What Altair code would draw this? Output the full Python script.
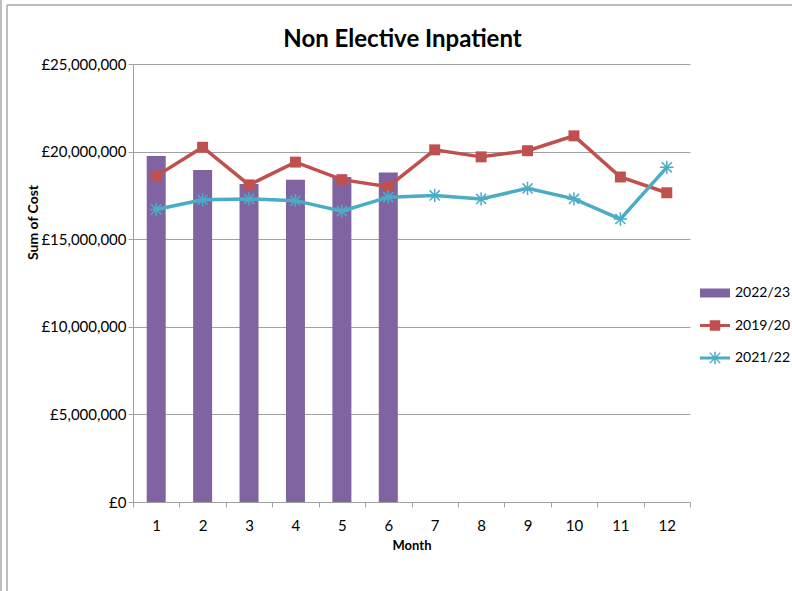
import altair as alt
import pandas as pd

# ---- data -------------------------------------------------------------
months = list(range(1, 13))
series_names = ["2022/23", "2019/20", "2021/22"]
series_colors = ["#8064A2", "#C0504D", "#4BACC6"]

# monthly cost, £
cost_2022_23 = [19_750_000, 18_950_000, 18_150_000, 18_400_000, 18_550_000, 18_800_000]
cost_2019_20 = [18_600_000, 20_250_000, 18_100_000, 19_400_000, 18_400_000, 18_000_000,
                20_100_000, 19_700_000, 20_050_000, 20_900_000, 18_550_000, 17_650_000]
cost_2021_22 = [16_700_000, 17_250_000, 17_300_000, 17_200_000, 16_600_000, 17_400_000,
                17_500_000, 17_300_000, 17_900_000, 17_300_000, 16_150_000, 19_100_000]

y_ticks = [0, 5_000_000, 10_000_000, 15_000_000, 20_000_000, 25_000_000]

bars_df = pd.DataFrame({"Month": months[:len(cost_2022_23)],
                        "Series": series_names[0], "Cost": cost_2022_23})
lines_df = pd.concat([
    pd.DataFrame({"Month": months, "Series": series_names[1], "Cost": cost_2019_20}),
    pd.DataFrame({"Month": months, "Series": series_names[2], "Cost": cost_2021_22}),
], ignore_index=True)

# ---- styling ----------------------------------------------------------
FONT = "Lato"
GREY = "#a0a0a0"
W, H = 557, 438

# marker shape: asterisk drawn as strokes
ASTERISK = "M-1,0L1,0M0,-1L0,1M-0.75,-0.75L0.75,0.75M-0.75,0.75L0.75,-0.75"

# legend swatches (filled paths): bar block, line + square, line + asterisk
LEG_BAR = "M-1,-0.3L1,-0.3L1,0.3L-1,0.3Z"
LEG_SQUARE = ("M-1,-0.1L1,-0.1L1,0.1L-1,0.1Z"
              "M-0.35,-0.35L0.35,-0.35L0.35,0.35L-0.35,0.35Z")
LEG_STAR = ("M-1,-0.1L1,-0.1L1,0.1L-1,0.1Z"
            "M-0.05,-0.42L0.05,-0.42L0.05,0.42L-0.05,0.42Z"
            "M-0.322,-0.378L0.378,0.322L0.322,0.378L-0.378,-0.322Z"
            "M-0.378,0.322L0.322,-0.378L0.378,-0.322L-0.322,0.378Z")

x_enc = alt.X(
    "Month:O",
    scale=alt.Scale(paddingInner=0, paddingOuter=0),
    axis=alt.Axis(
        title="Month", labelAngle=0, tickBand="extent", tickSize=5,
        labelPadding=11, labelFont=FONT, labelFontSize=15, labelColor="#000",
        domainColor=GREY, tickColor=GREY, grid=False,
        titleFont=FONT, titleFontSize=13, titleFontWeight="bold", titleColor="#000",
        titleY=43, titleBaseline="middle",
    ),
)
y_enc = alt.Y(
    "Cost:Q",
    scale=alt.Scale(domain=[0, 25_000_000], nice=False),
    axis=alt.Axis(
        values=y_ticks, labelExpr="'£' + format(datum.value, ',.0f')",
        tickSize=5, labelPadding=2, labelFont=FONT, labelFontSize=15, labelColor="#000",
        domainColor=GREY, tickColor=GREY, grid=True, gridColor=GREY,
        title="Sum of Cost", titleFont=FONT, titleFontSize=14, titleFontWeight="bold",
        titleColor="#000", titleX=-100, titleY=158, titleBaseline="middle",
    ),
)

bars = alt.Chart(bars_df).mark_bar(size=19, color=series_colors[0]).encode(x=x_enc, y=y_enc)


def series_layers(name, color, marker):
    src = alt.Chart(lines_df).transform_filter(alt.datum.Series == name)
    line = src.mark_line(color=color, strokeWidth=3.5).encode(x=x_enc, y=y_enc)
    if marker == "square":
        pts = src.mark_point(shape="square", filled=True, size=120, color=color,
                             opacity=1).encode(x=x_enc, y=y_enc)
    else:
        pts = src.mark_point(shape=ASTERISK, filled=False, size=180, color=color,
                             strokeWidth=1.5, opacity=1).encode(x=x_enc, y=y_enc)
    return line + pts


legend = alt.Legend(
    title=None, orient="none", legendX=567, legendY=214,
    symbolSize=900, symbolStrokeWidth=0, symbolOpacity=1,
    labelFont=FONT, labelFontSize=14, labelColor="#000", labelOffset=5,
    rowPadding=10.5,
)

# carries the combined series legend
legend_layer = alt.Chart(lines_df).mark_point(filled=True, opacity=0).encode(
    x=x_enc, y=y_enc,
    color=alt.Color("Series:N", scale=alt.Scale(domain=series_names, range=series_colors),
                    legend=legend),
    shape=alt.Shape("Series:N", scale=alt.Scale(domain=series_names,
                                                range=[LEG_BAR, LEG_SQUARE, LEG_STAR]),
                    legend=legend),
)

# chart-area frame lines
frame_src = alt.Chart(pd.DataFrame({"k": [0]}))
frame = (
    frame_src.mark_rule(color="#a8a8a8", strokeWidth=1.5).encode(
        x=alt.value(-132), y=alt.value(-64), y2=alt.value(527))
    + frame_src.mark_rule(color="#a8a8a8", strokeWidth=1.5).encode(
        x=alt.value(-126), y=alt.value(-59), y2=alt.value(527))
    + frame_src.mark_rule(color="#a8a8a8", strokeWidth=1.5).encode(
        x=alt.value(-126), x2=alt.value(659), y=alt.value(-59))
)

chart = alt.layer(
    bars,
    series_layers("2019/20", series_colors[1], "square"),
    series_layers("2021/22", series_colors[2], "asterisk"),
    legend_layer,
    frame,
).properties(
    width=W, height=H,
    title=alt.TitleParams("Non Elective Inpatient", font=FONT, fontSize=24,
                          fontWeight="bold", color="#000", anchor="middle",
                          frame="group", baseline="alphabetic",
                          offset=-72, dx=-9),
    autosize=alt.AutoSizeParams(type="none"),
    padding={"left": 133, "top": 64, "right": 102, "bottom": 89},
    background="white",
).configure_view(stroke=None)

chart.save("out.html", embed_options={"renderer": "svg", "actions": False})
